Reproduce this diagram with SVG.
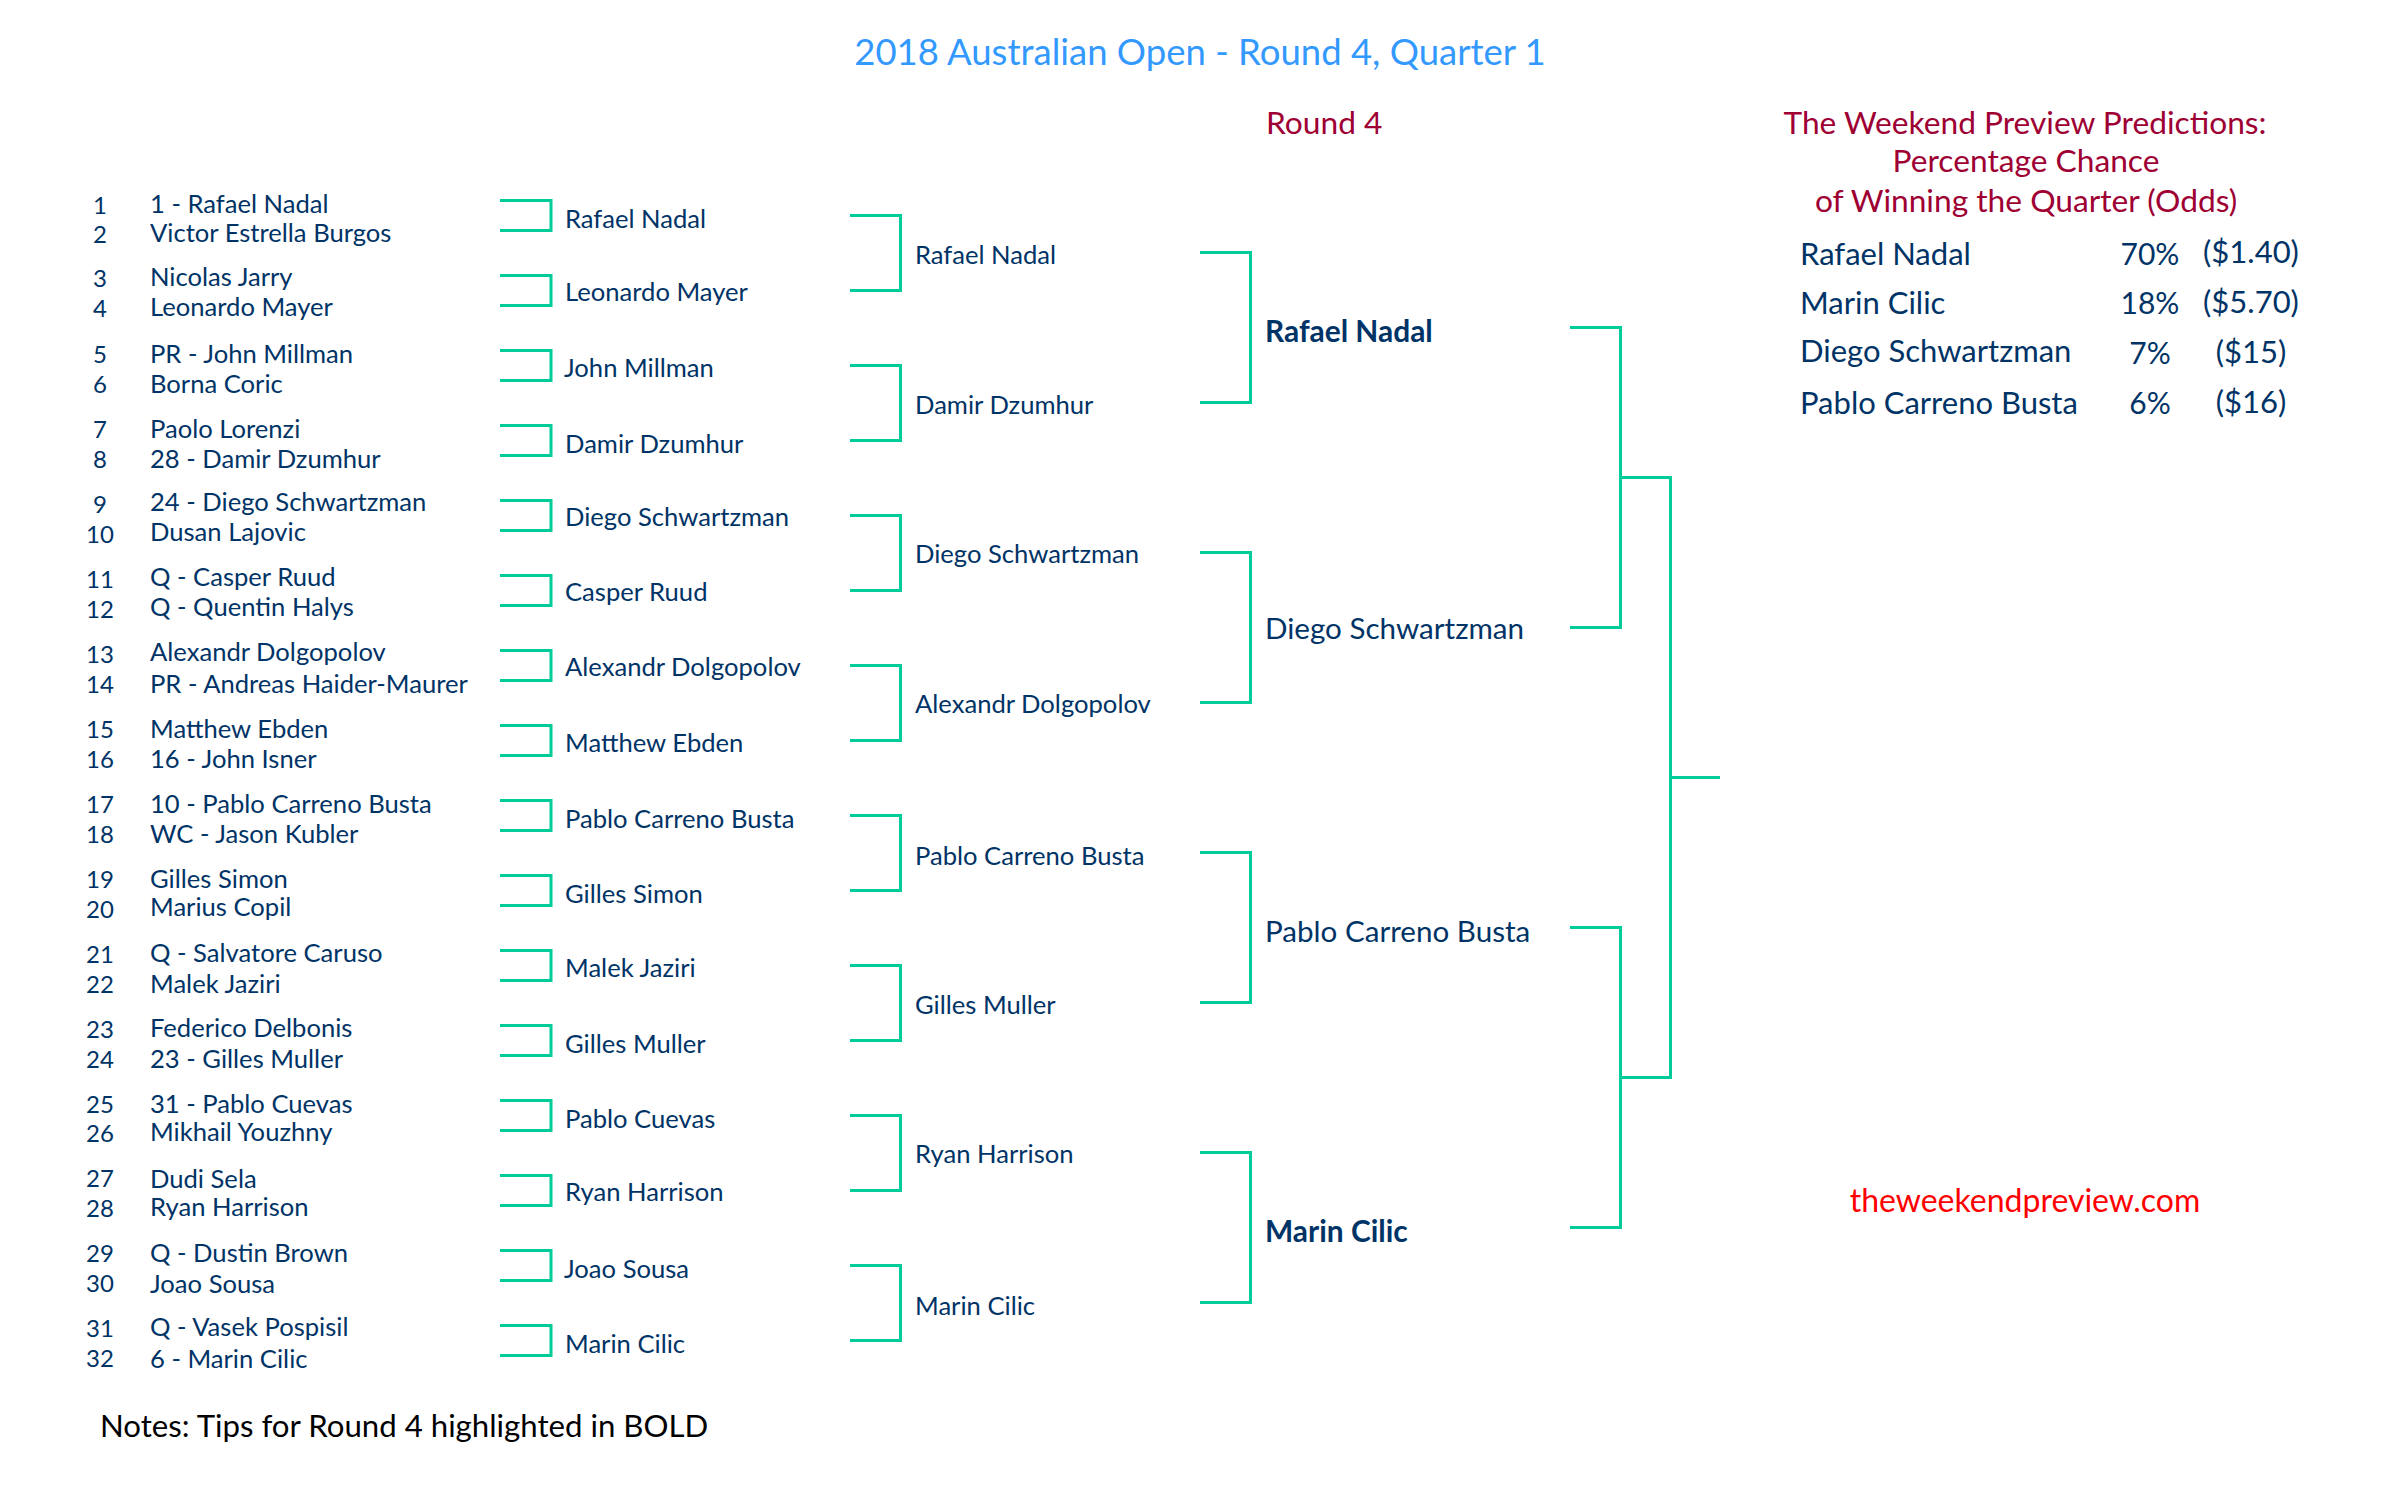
<svg xmlns="http://www.w3.org/2000/svg" width="2400" height="1500" viewBox="0 0 2400 1500">
<style>
text{font-family:"Lato","Carlito","Open Sans",sans-serif;fill:#003366}
.n{font-size:25.6px}
.s{font-size:24px;text-anchor:middle}
.r4{font-size:29.6px}
.b{font-size:29.9px;font-weight:700}
.t{font-size:31px}
.p{font-size:30px;text-anchor:middle}
.m{text-anchor:middle}
.h{font-size:31.7px;fill:#9E0033}
.title{font-size:36.5px;fill:#3399FF;text-anchor:middle}
.link{font-size:32px;fill:#FF0000;text-anchor:middle}
.note{font-size:31.2px;fill:#000}
#connectors path{fill:none;stroke:#00CC99;stroke-width:3}
</style>
<rect width="2400" height="1500" fill="#fff"/>
<g id="connectors">
<path d="M500 200.5H551V230.5H500"/><path d="M500 275.5H551V305.5H500"/><path d="M500 350.5H551V380.5H500"/><path d="M500 425.5H551V455.5H500"/>
<path d="M500 500.5H551V530.5H500"/><path d="M500 575.5H551V605.5H500"/><path d="M500 650.5H551V680.5H500"/><path d="M500 725.5H551V755.5H500"/>
<path d="M500 800.5H551V830.5H500"/><path d="M500 875.5H551V905.5H500"/><path d="M500 950.5H551V980.5H500"/><path d="M500 1025.5H551V1055.5H500"/>
<path d="M500 1100.5H551V1130.5H500"/><path d="M500 1175.5H551V1205.5H500"/><path d="M500 1250.5H551V1280.5H500"/><path d="M500 1325.5H551V1355.5H500"/>
<path d="M850 215.5H900.5V290.5H850"/><path d="M850 365.5H900.5V440.5H850"/><path d="M850 515.5H900.5V590.5H850"/><path d="M850 665.5H900.5V740.5H850"/>
<path d="M850 815.5H900.5V890.5H850"/><path d="M850 965.5H900.5V1040.5H850"/><path d="M850 1115.5H900.5V1190.5H850"/><path d="M850 1265.5H900.5V1340.5H850"/>
<path d="M1200 252.5H1250.5V402.5H1200"/><path d="M1200 552.5H1250.5V702.5H1200"/><path d="M1200 852.5H1250.5V1002.5H1200"/><path d="M1200 1152.5H1250.5V1302.5H1200"/>
<path d="M1570 327.5H1620.5V627.5H1570"/><path d="M1570 927.5H1620.5V1227.5H1570"/>
<path d="M1620.5 477.5H1670.5V1077.5H1620.5"/><path d="M1670.5 777.5H1720"/>
</g>
<g id="title"><text class="title" x="1200" y="65">2018 Australian Open - Round 4, Quarter 1</text></g>
<g id="round4-heading"><text class="h" x="1266" y="134">Round 4</text></g>
<g id="predictions-heading">
<text class="h m" x="2025" y="134">The Weekend Preview Predictions:</text>
<text class="h m" x="2026" y="172">Percentage Chance</text>
<text class="h m" x="2026" y="212">of Winning the Quarter (Odds)</text>
</g>
<g id="seeds">
<text class="s" x="100" y="214">1</text><text class="s" x="100" y="243">2</text><text class="s" x="100" y="287">3</text><text class="s" x="100" y="317">4</text>
<text class="s" x="100" y="363">5</text><text class="s" x="100" y="393">6</text><text class="s" x="100" y="438">7</text><text class="s" x="100" y="468">8</text>
<text class="s" x="100" y="513">9</text><text class="s" x="100" y="543">10</text><text class="s" x="100" y="588">11</text><text class="s" x="100" y="618">12</text>
<text class="s" x="100" y="663">13</text><text class="s" x="100" y="693">14</text><text class="s" x="100" y="738">15</text><text class="s" x="100" y="768">16</text>
<text class="s" x="100" y="813">17</text><text class="s" x="100" y="843">18</text><text class="s" x="100" y="888">19</text><text class="s" x="100" y="918">20</text>
<text class="s" x="100" y="963">21</text><text class="s" x="100" y="993">22</text><text class="s" x="100" y="1038">23</text><text class="s" x="100" y="1068">24</text>
<text class="s" x="100" y="1113">25</text><text class="s" x="100" y="1142">26</text><text class="s" x="100" y="1187">27</text><text class="s" x="100" y="1217">28</text>
<text class="s" x="100" y="1262">29</text><text class="s" x="100" y="1292">30</text><text class="s" x="100" y="1337">31</text><text class="s" x="100" y="1367">32</text>
</g>
<g id="round-of-128">
<text class="n" x="150" y="213">1 - Rafael Nadal</text><text class="n" x="150" y="241.5">Victor Estrella Burgos</text>
<text class="n" x="150" y="286">Nicolas Jarry</text><text class="n" x="150" y="316">Leonardo Mayer</text>
<text class="n" x="150" y="363">PR - John Millman</text><text class="n" x="150" y="393">Borna Coric</text>
<text class="n" x="150" y="438">Paolo Lorenzi</text><text class="n" x="150" y="468">28 - Damir Dzumhur</text>
<text class="n" x="150" y="511">24 - Diego Schwartzman</text><text class="n" x="150" y="541">Dusan Lajovic</text>
<text class="n" x="150" y="586">Q - Casper Ruud</text><text class="n" x="150" y="616">Q - Quentin Halys</text>
<text class="n" x="150" y="661">Alexandr Dolgopolov</text><text class="n" x="150" y="693">PR - Andreas Haider-Maurer</text>
<text class="n" x="150" y="738">Matthew Ebden</text><text class="n" x="150" y="768">16 - John Isner</text>
<text class="n" x="150" y="813">10 - Pablo Carreno Busta</text><text class="n" x="150" y="843">WC - Jason Kubler</text>
<text class="n" x="150" y="888">Gilles Simon</text><text class="n" x="150" y="916">Marius Copil</text>
<text class="n" x="150" y="962">Q - Salvatore Caruso</text><text class="n" x="150" y="993">Malek Jaziri</text>
<text class="n" x="150" y="1037">Federico Delbonis</text><text class="n" x="150" y="1068">23 - Gilles Muller</text>
<text class="n" x="150" y="1113">31 - Pablo Cuevas</text><text class="n" x="150" y="1141">Mikhail Youzhny</text>
<text class="n" x="150" y="1188">Dudi Sela</text><text class="n" x="150" y="1216">Ryan Harrison</text>
<text class="n" x="150" y="1262">Q - Dustin Brown</text><text class="n" x="150" y="1293">Joao Sousa</text>
<text class="n" x="150" y="1336">Q - Vasek Pospisil</text><text class="n" x="150" y="1368">6 - Marin Cilic</text>
</g>
<g id="round-of-64">
<text class="n" x="565" y="228">Rafael Nadal</text><text class="n" x="565" y="301">Leonardo Mayer</text><text class="n" x="564" y="377">John Millman</text><text class="n" x="565" y="453">Damir Dzumhur</text>
<text class="n" x="565" y="526">Diego Schwartzman</text><text class="n" x="565" y="601">Casper Ruud</text><text class="n" x="565" y="676">Alexandr Dolgopolov</text><text class="n" x="565" y="752">Matthew Ebden</text>
<text class="n" x="565" y="828">Pablo Carreno Busta</text><text class="n" x="565" y="903">Gilles Simon</text><text class="n" x="565" y="977">Malek Jaziri</text><text class="n" x="565" y="1053">Gilles Muller</text>
<text class="n" x="565" y="1128">Pablo Cuevas</text><text class="n" x="565" y="1201">Ryan Harrison</text><text class="n" x="564" y="1278">Joao Sousa</text><text class="n" x="565" y="1353">Marin Cilic</text>
</g>
<g id="round-of-32">
<text class="n" x="915" y="264">Rafael Nadal</text><text class="n" x="915" y="414">Damir Dzumhur</text><text class="n" x="915" y="563">Diego Schwartzman</text><text class="n" x="915" y="713">Alexandr Dolgopolov</text>
<text class="n" x="915" y="865">Pablo Carreno Busta</text><text class="n" x="915" y="1014">Gilles Muller</text><text class="n" x="915" y="1163">Ryan Harrison</text><text class="n" x="915" y="1315">Marin Cilic</text>
</g>
<g id="round-4">
<text class="b" x="1265" y="342">Rafael Nadal</text><text class="r4" x="1265" y="639">Diego Schwartzman</text><text class="r4" x="1265" y="942">Pablo Carreno Busta</text><text class="b" x="1265" y="1242">Marin Cilic</text>
</g>
<g id="predictions">
<text class="t" x="1800" y="265">Rafael Nadal</text><text class="p" x="2150" y="265">70%</text><text class="t m" x="2251" y="263">($1.40)</text>
<text class="t" x="1800" y="314">Marin Cilic</text><text class="p" x="2150" y="314">18%</text><text class="t m" x="2251" y="313">($5.70)</text>
<text class="t" x="1800" y="362">Diego Schwartzman</text><text class="p" x="2150" y="364">7%</text><text class="t m" x="2251" y="363">($15)</text>
<text class="t" x="1800" y="414">Pablo Carreno Busta</text><text class="p" x="2150" y="414">6%</text><text class="t m" x="2251" y="413">($16)</text>
</g>
<g id="site-link"><text class="link" x="2025" y="1212">theweekendpreview.com</text></g>
<g id="notes"><text class="note" x="100" y="1437">Notes: Tips for Round 4 highlighted in BOLD</text></g>
</svg>
